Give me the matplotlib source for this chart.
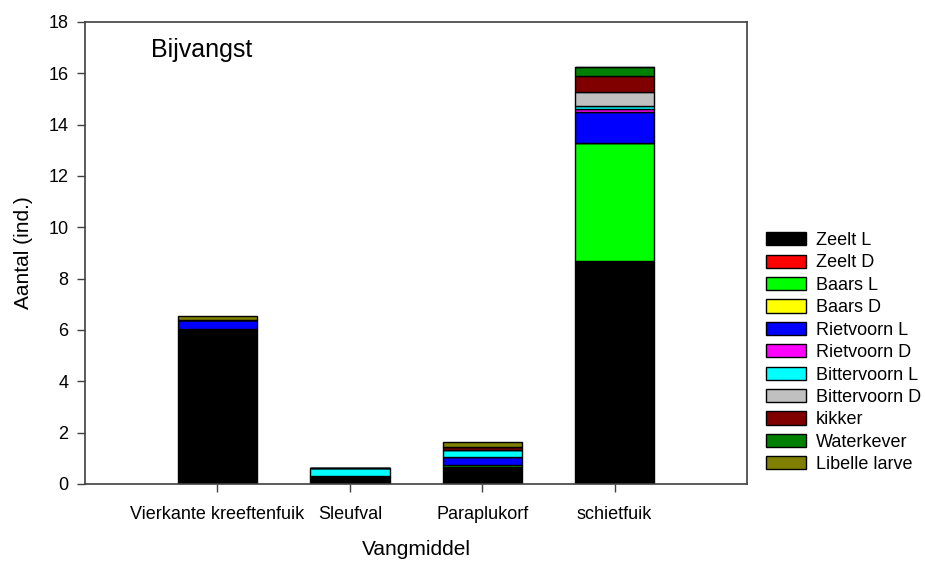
import numpy as np
import matplotlib
matplotlib.use('Agg')
import matplotlib.pyplot as plt

plt.rcParams['font.family'] = ['Liberation Sans', 'DejaVu Sans']

# ── Data ────────────────────────────────────────────────────
vangmiddel = ['Vierkante kreeftenfuik', 'Sleufval', 'Paraplukorf', 'schietfuik']

zeelt_l        = [6.05, 0.27, 0.68, 8.70]
zeelt_d        = [0.00, 0.00, 0.00, 0.00]
baars_l        = [0.00, 0.05, 0.06, 4.60]
baars_d        = [0.00, 0.00, 0.00, 0.00]
rietvoorn_l    = [0.33, 0.00, 0.30, 1.18]
rietvoorn_d    = [0.00, 0.00, 0.00, 0.13]
bittervoorn_l  = [0.00, 0.30, 0.28, 0.10]
bittervoorn_d  = [0.00, 0.00, 0.00, 0.55]
kikker         = [0.00, 0.00, 0.14, 0.62]
waterkever     = [0.00, 0.00, 0.00, 0.38]
libelle_larve  = [0.17, 0.00, 0.16, 0.00]

soorten = ['Zeelt L', 'Zeelt D', 'Baars L', 'Baars D', 'Rietvoorn L', 'Rietvoorn D',
           'Bittervoorn L', 'Bittervoorn D', 'kikker', 'Waterkever', 'Libelle larve']
reeksen = [zeelt_l, zeelt_d, baars_l, baars_d, rietvoorn_l, rietvoorn_d,
           bittervoorn_l, bittervoorn_d, kikker, waterkever, libelle_larve]
kleuren = ['#000000', '#FF0000', '#00FF00', '#FFFF00', '#0000FF', '#FF00FF',
           '#00FFFF', '#C0C0C0', '#800000', '#008000', '#808000']

# ── Plot ────────────────────────────────────────────────────
fig = plt.figure(figsize=(9.25, 5.61), dpi=100)
fig.patch.set_facecolor('white')
ax = fig.add_axes([0.092, 0.1373, 0.7156, 0.8235])

x = np.arange(1, len(vangmiddel) + 1)
bottom = np.zeros(len(vangmiddel))
for naam, waarden, kleur in zip(soorten, reeksen, kleuren):
    w = np.array(waarden)
    ax.bar(x, w, 0.6, bottom=bottom, color=kleur, edgecolor='black', lw=1, label=naam)
    bottom += w

ax.set_xlim(0, 5)
ax.set_ylim(0, 18)
ax.set_yticks(range(0, 19, 2))
ax.set_xticks(x)
ax.set_xticklabels(vangmiddel)
ax.tick_params(axis='both', direction='out', length=6, width=1, labelsize=13,
               color='#404040', pad=6)
ax.tick_params(axis='x', pad=10)
for s in ax.spines.values():
    s.set_color('#404040')
    s.set_linewidth(1.2)

ax.set_ylabel('Aantal (ind.)', fontsize=15, labelpad=11)
ax.set_xlabel('Vangmiddel', fontsize=15, labelpad=12)
ax.text(0.1, 0.94, 'Bijvangst', transform=ax.transAxes, fontsize=18, va='center', ha='left')

fig.legend(loc='upper left', bbox_to_anchor=(766 / 925, 1 - 232 / 561),
           frameon=False, fontsize=13, handlelength=2.2, handleheight=0.75,
           handletextpad=0.55, labelspacing=0.3, borderpad=0, borderaxespad=0)

plt.savefig('out.png', dpi=100, facecolor='white')
